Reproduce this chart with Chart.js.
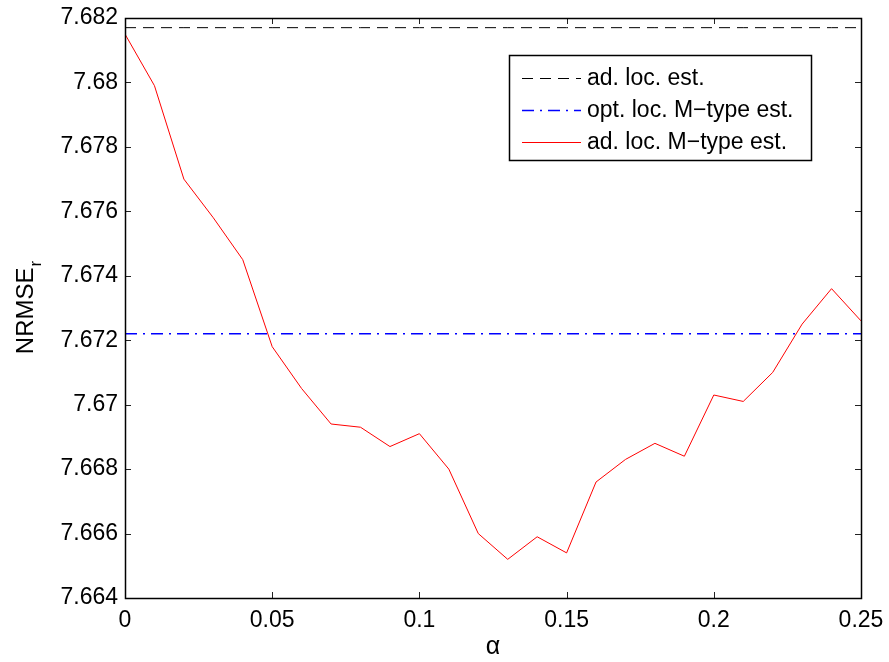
<!DOCTYPE html>
<html>
<head>
<meta charset="utf-8">
<script src="https://cdn.jsdelivr.net/npm/chart.js@4/dist/chart.umd.min.js"></script>
<style>
  html, body { margin: 0; padding: 0; background: #fff; }
  #wrap { width: 889px; height: 662px; }
</style>
</head>
<body>
<div id="wrap"><canvas id="nrmseChart"></canvas></div>
<script>
const alphas = [0, 0.01, 0.02, 0.03, 0.04, 0.05, 0.06, 0.07, 0.08, 0.09, 0.1, 0.11, 0.12,
  0.13, 0.14, 0.15, 0.16, 0.17, 0.18, 0.19, 0.2, 0.21, 0.22, 0.23, 0.24, 0.25];
const adLocMType = [7.6815, 7.6799, 7.6770, 7.6758, 7.6745, 7.6718, 7.6705, 7.6694, 7.6693,
  7.6687, 7.6691, 7.6680, 7.6660, 7.6652, 7.6659, 7.6654, 7.6676, 7.6683, 7.6688, 7.6684,
  7.6703, 7.6701, 7.6710, 7.6725, 7.6736, 7.6726];
const adLocLevel = 7.6817;
const optLocLevel = 7.6722;
const seriesLabels = ['ad. loc. est.', 'opt. loc. M\u2212type est.', 'ad. loc. M\u2212type est.'];
const xTicks = [0, 0.05, 0.1, 0.15, 0.2, 0.25];
const yTicks = [7.664, 7.666, 7.668, 7.67, 7.672, 7.674, 7.676, 7.678, 7.68, 7.682];

const FONT = 'Liberation Sans, Arial, Helvetica, sans-serif';

function fmt(v) {
  return parseFloat(Number(v).toFixed(4)).toString();
}

// MATLAB style box, inward ticks, legend and subscripted y label
const matlabAxes = {
  id: 'matlabAxes',
  afterDraw(chart) {
    const { ctx, chartArea: a, scales } = chart;
    const tl = 6;
    ctx.save();
    ctx.strokeStyle = '#222';
    ctx.lineWidth = 1;
    ctx.beginPath();
    for (const v of xTicks) {
      const px = Math.round(scales.x.getPixelForValue(v)) + 0.5;
      ctx.moveTo(px, a.bottom); ctx.lineTo(px, a.bottom - tl);
      ctx.moveTo(px, a.top); ctx.lineTo(px, a.top + tl);
    }
    for (const v of yTicks) {
      const py = Math.round(scales.y.getPixelForValue(v)) + 0.5;
      ctx.moveTo(a.left, py); ctx.lineTo(a.left + tl, py);
      ctx.moveTo(a.right, py); ctx.lineTo(a.right - tl, py);
    }
    ctx.stroke();
    ctx.strokeStyle = '#000';
    ctx.lineWidth = 1.5;
    ctx.strokeRect(Math.round(a.left) + 0.5, Math.round(a.top) + 0.5,
      Math.round(a.right - a.left), Math.round(a.bottom - a.top));

    // legend
    const lx = 509, ly = 55, lw = 302, lh = 105;
    ctx.fillStyle = '#fff';
    ctx.fillRect(lx, ly, lw, lh);
    ctx.lineWidth = 1.5;
    ctx.strokeRect(lx + 0.5, ly + 0.5, lw, lh);
    ctx.font = '23px ' + FONT;
    ctx.textBaseline = 'middle';
    chart.data.datasets.forEach((ds, i) => {
      const yy = ly + 23 + i * 32;
      ctx.beginPath();
      ctx.setLineDash(ds.borderDash || []);
      ctx.strokeStyle = ds.borderColor;
      ctx.lineWidth = ds.borderWidth;
      ctx.moveTo(lx + 13, yy + 0.5); ctx.lineTo(lx + 72, yy + 0.5);
      ctx.stroke();
      ctx.setLineDash([]);
      ctx.fillStyle = '#000';
      ctx.fillText(ds.label, lx + 78, yy + 1);
    });

    // y axis title with subscript
    ctx.save();
    ctx.translate(33, (a.top + a.bottom) / 2);
    ctx.rotate(-Math.PI / 2);
    ctx.fillStyle = '#000';
    ctx.textBaseline = 'alphabetic';
    const main = 'NRMSE';
    ctx.font = '24px ' + FONT;
    const w1 = ctx.measureText(main).width;
    ctx.font = '17px ' + FONT;
    const w2 = ctx.measureText('r').width;
    const x0 = -(w1 + w2) / 2;
    ctx.font = '24px ' + FONT;
    ctx.fillText(main, x0, 0);
    ctx.font = '17px ' + FONT;
    ctx.fillText('r', x0 + w1 + 1, 8);
    ctx.restore();
    ctx.restore();
  }
};

const ctx = document.getElementById('nrmseChart').getContext('2d');
new Chart(ctx, {
  type: 'line',
  data: {
    datasets: [
      {
        label: seriesLabels[0],
        data: alphas.map(x => ({ x, y: adLocLevel })),
        borderColor: '#000000',
        borderWidth: 1,
        borderDash: [11, 7]
      },
      {
        label: seriesLabels[1],
        data: alphas.map(x => ({ x, y: optLocLevel })),
        borderColor: '#0000ff',
        borderWidth: 1.5,
        borderDash: [12, 6, 2, 6]
      },
      {
        label: seriesLabels[2],
        data: alphas.map((x, i) => ({ x, y: adLocMType[i] })),
        borderColor: '#ff0000',
        borderWidth: 1
      }
    ]
  },
  options: {
    responsive: true,
    maintainAspectRatio: false,
    animation: false,
    events: [],
    layout: { padding: { top: 18, right: 28, left: 0, bottom: 0 } },
    elements: { point: { radius: 0 }, line: { tension: 0 } },
    plugins: {
      legend: { display: false },
      tooltip: { enabled: false }
    },
    scales: {
      x: {
        type: 'linear',
        min: 0,
        max: 0.25,
        afterBuildTicks: s => { s.ticks = xTicks.map(v => ({ value: v })); },
        afterFit: s => { s.height = 64; s.paddingLeft = 0; s.paddingRight = 0; },
        grid: { display: false, drawTicks: false },
        border: { display: false },
        ticks: {
          padding: 9,
          color: '#000',
          font: { family: FONT, size: 23 },
          maxRotation: 0,
          callback: v => fmt(v)
        },
        title: {
          display: true,
          text: '\u03b1',
          color: '#000',
          font: { family: FONT, size: 25 },
          padding: { top: 0, bottom: 0 }
        }
      },
      y: {
        min: 7.664,
        max: 7.682,
        afterBuildTicks: s => { s.ticks = yTicks.map(v => ({ value: v })); },
        afterFit: s => { s.width = 125; s.paddingTop = 0; s.paddingBottom = 0; },
        grid: { display: false, drawTicks: false },
        border: { display: false },
        ticks: {
          padding: 7,
          color: '#000',
          font: { family: FONT, size: 23 },
          callback: v => fmt(v)
        }
      }
    }
  },
  plugins: [matlabAxes]
});
</script>
</body>
</html>
